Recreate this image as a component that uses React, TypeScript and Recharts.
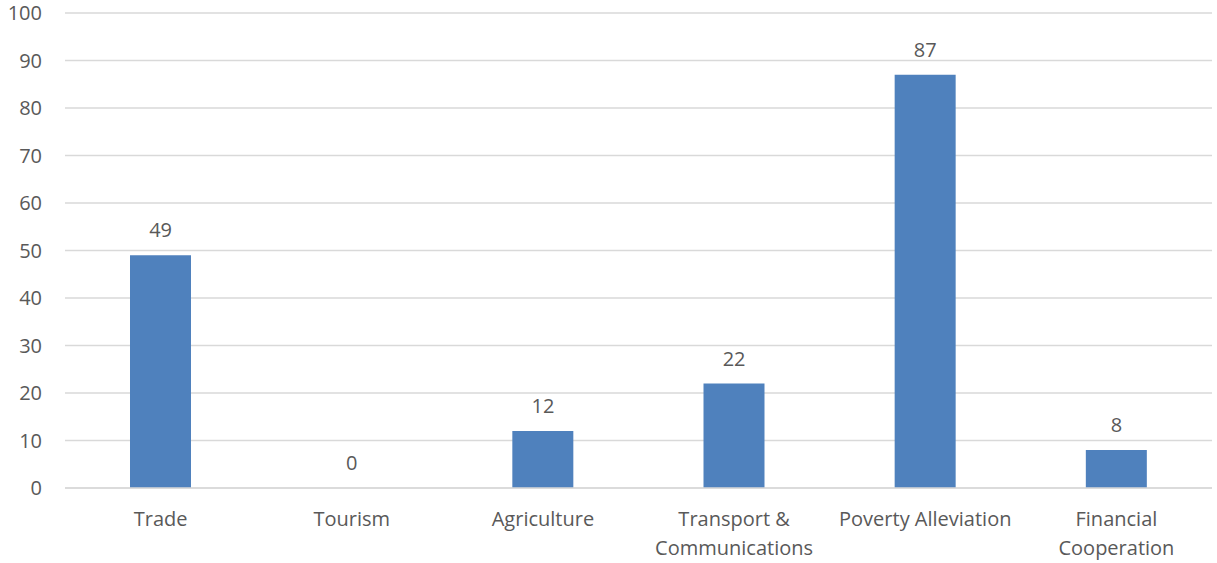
import { ComposedChart, Bar, Line, XAxis, YAxis, CartesianGrid, LabelList } from "recharts"

const categories = ["Trade", "Tourism", "Agriculture", "Transport &\nCommunications", "Poverty Alleviation", "Financial\nCooperation"]
const values = [49, 0, 12, 22, 87, 8]
const yTicks = [0, 10, 20, 30, 40, 50, 60, 70, 80, 90, 100]

const data = categories.map((c, i) => ({ name: c, value: values[i] }))

const FONT = "'Open Sans', sans-serif"
const TEXT = "#595959"

const CategoryTick = ({ x, y, payload }: any) => {
  const lines = String(payload.value).split("\n")
  return (
    <text x={x} y={y} textAnchor="middle" fill={TEXT} fontSize={20} fontFamily={FONT}>
      {lines.map((l, i) => (
        <tspan key={i} x={x} dy={i === 0 ? 30 : 29}>{l}</tspan>
      ))}
    </text>
  )
}

export default function App() {
  return (
    <div style={{ position: "absolute", left: 0, top: 0, background: "#fff" }}>
      <ComposedChart width={1217} height={563} data={data} margin={{ top: 13, right: 5, left: 0, bottom: 0 }} barCategoryGap="34%">
        <CartesianGrid vertical={false} stroke="#d9d9d9" strokeWidth={1.5} />
        <XAxis
          dataKey="name"
          interval={0}
          tickLine={false}
          axisLine={{ stroke: "#d9d9d9", strokeWidth: 1.5 }}
          height={75}
          tick={<CategoryTick />}
        />
        <YAxis
          domain={[0, 100]}
          ticks={yTicks}
          width={65}
          tickLine={false}
          axisLine={false}
          tickSize={0}
          tickMargin={23}
          tick={{ fill: TEXT, fontSize: 20, fontFamily: FONT }}
        />
        <Bar dataKey="value" fill="#4f81bd" isAnimationActive={false} />
        <Line dataKey="value" stroke="none" dot={false} activeDot={false} legendType="none" isAnimationActive={false}>
          <LabelList dataKey="value" position="top" offset={18} fill={TEXT} fontSize={20} fontFamily={FONT} />
        </Line>
      </ComposedChart>
    </div>
  )
}
